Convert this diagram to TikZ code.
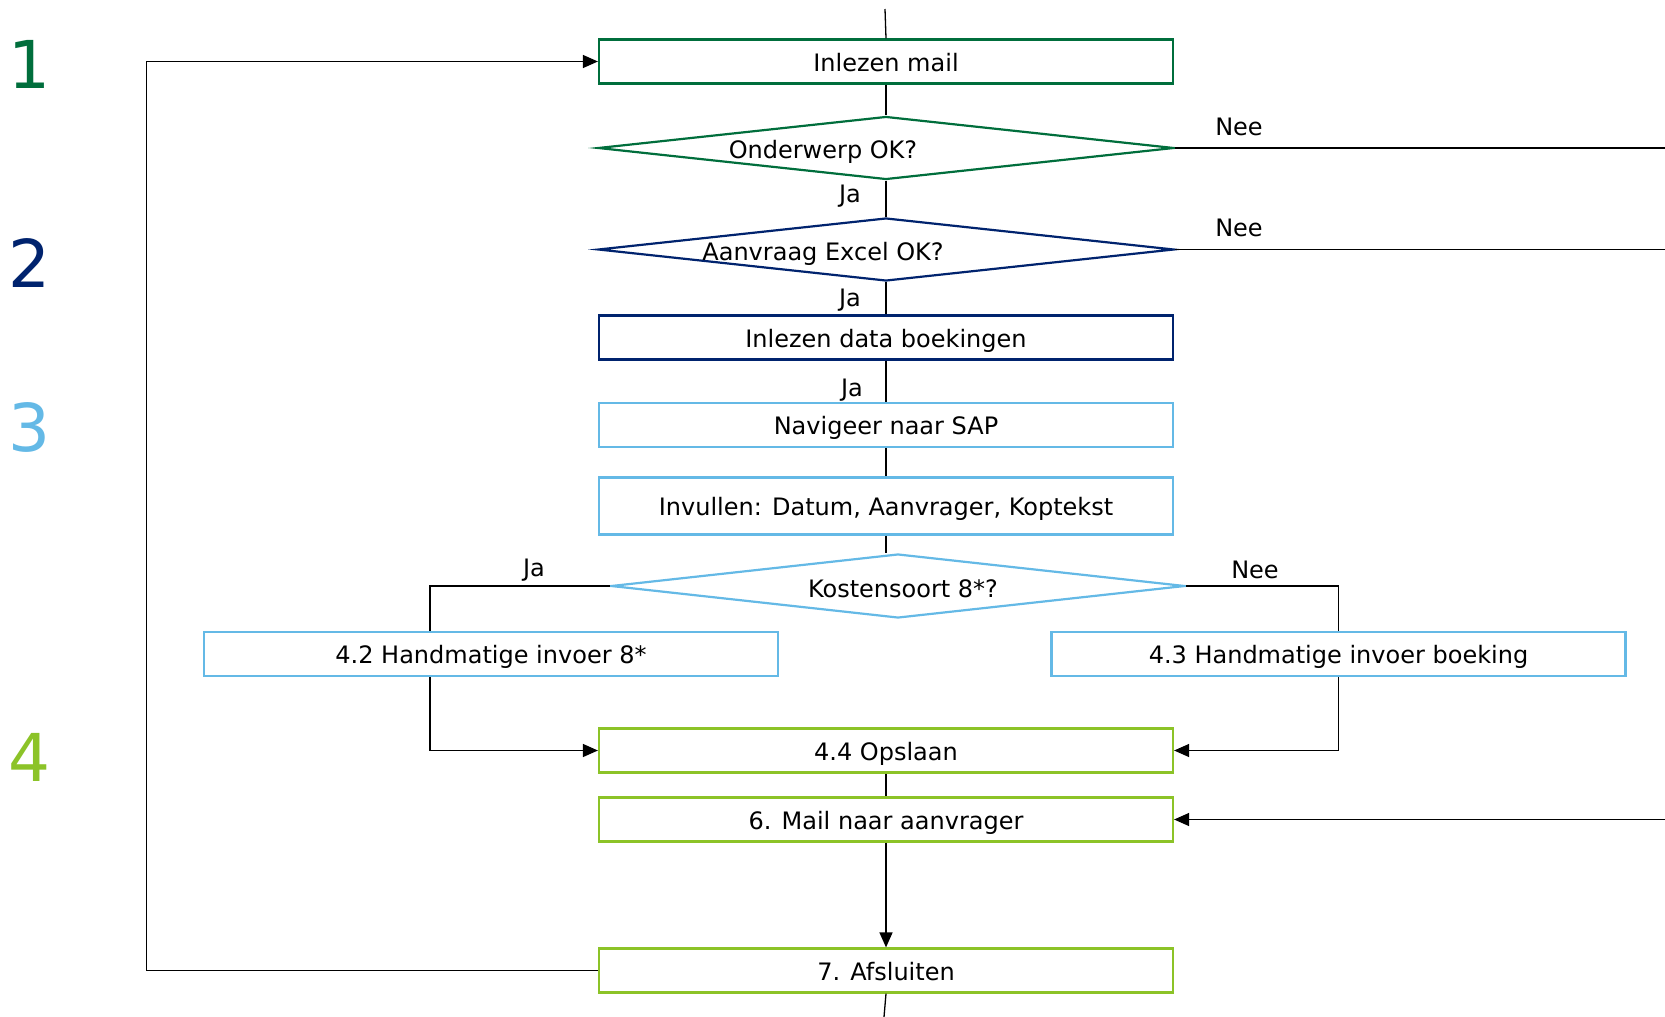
\documentclass[tikz,border=0pt]{standalone}
\usepackage{fontspec}
\setmainfont{DejaVu Sans}
\usepackage{xcolor}
\definecolor{green-800}{RGB}{0,110,60}
\definecolor{navy-900}{RGB}{0,35,110}
\definecolor{sky-400}{RGB}{100,185,230}
\definecolor{lime-600}{RGB}{140,195,40}
\usetikzlibrary{shapes.geometric,arrows.meta,positioning}

\begin{document}
\begin{tikzpicture}[
    x=1pt, y=-1pt,
    every node/.style={inner sep=0pt},
    lbl/.style={font=\fontsize{24}{28}\selectfont, text height=19pt, text depth=0pt},
    stepbox/.style={lbl, draw=#1, line width=2.2pt, fill=white, minimum width=574pt, minimum height=44pt},
    decision/.style={draw=#1, diamond, line width=2.2pt, fill=white, minimum width=576pt, minimum height=63pt},
    conn/.style={line width=1.3pt, draw=black},
    arr/.style={conn, -{Triangle[length=15pt,width=13pt]}},
    phase/.style={font=\fontsize{66}{72}\selectfont}
]

% Canvas
\useasboundingbox (0,0) rectangle (1665,1017);

% Phase numbers
\node[phase, text=green-800] (fase-1) at (29,64) {1};
\node[phase, text=navy-900] (fase-2) at (29,263) {2};
\node[phase, text=sky-400] (fase-3) at (29,427) {3};
\node[phase, text=lime-600] (fase-4) at (29,757) {4};

% Steps and decisions
\node[stepbox=green-800] (mail) at (886,61.5) {Inlezen mail};
\node[decision=green-800] (onderwerp) at (886,148) {};
\node[lbl] (onderwerp-txt) at (823,149) {Onderwerp OK?};
\node[decision=navy-900] (excel) at (886,249.5) {};
\node[lbl] (excel-txt) at (823,251) {Aanvraag Excel OK?};
\node[stepbox=navy-900] (data) at (886,337.5) {Inlezen data boekingen};
\node[stepbox=sky-400] (sap) at (886,425) {Navigeer naar SAP};
\node[stepbox=sky-400, minimum height=57pt] (invullen) at (886,506) {Invullen: Datum, Aanvrager, Koptekst};
\node[decision=sky-400, minimum width=574pt, minimum height=64pt] (kosten) at (898,586) {};
\node[lbl] (kosten-txt) at (903,588) {Kostensoort 8*?};
\node[stepbox=sky-400] (hand-8) at (491,654) {4.2 Handmatige invoer 8*};
\node[stepbox=sky-400] (hand-boek) at (1338.5,654) {4.3 Handmatige invoer boeking};
\node[stepbox=lime-600] (opslaan) at (886,750.5) {4.4 Opslaan};
\node[stepbox=lime-600] (mail-aanvr) at (886,819.5) {6. Mail naar aanvrager};
\node[stepbox=lime-600] (afsluiten) at (886,970.5) {7. Afsluiten};

% Loose ends
\coordinate (start) at (885,9);
\coordinate (rand-1) at (1665,148);
\coordinate (rand-2) at (1665,249.5);
\coordinate (rand-3) at (1665,819.5);
\coordinate (terug) at (146.5,970.5);
\coordinate (einde) at (884,1017);

% Connectors
\draw[conn] (start) -- (mail.north);
\draw[conn] (mail.south) -- (onderwerp.north);
\draw[conn] (onderwerp.south) -- (excel.north);
\draw[conn] (onderwerp.east) -- (rand-1);
\draw[conn] (excel.south) -- (data.north);
\draw[conn] (excel.east) -- (rand-2);
\draw[conn] (data.south) -- (sap.north);
\draw[conn] (sap.south) -- (invullen.north);
\draw[conn] (invullen.south) -- (invullen.south |- kosten.north);
\draw[conn] (kosten.west) -| ([xshift=-61pt]hand-8.north);
\draw[conn] (kosten.east) -| (hand-boek.north);
\draw[arr] ([xshift=-61pt]hand-8.south) |- (opslaan.west);
\draw[arr] (hand-boek.south) |- (opslaan.east);
\draw[conn] (opslaan.south) -- (mail-aanvr.north);
\draw[arr] (rand-3) -- (mail-aanvr.east);
\draw[arr] (mail-aanvr.south) -- (afsluiten.north);
\draw[arr] (afsluiten.west) -- (terug) |- (mail.west);
\draw[conn] (afsluiten.south) -- (einde);

% Branch labels
\node[lbl] (nee-1) at (1239,126) {Nee};
\node[lbl] (ja-1) at (850,192.5) {Ja};
\node[lbl] (nee-2) at (1239,227) {Nee};
\node[lbl] (ja-2) at (850,296.5) {Ja};
\node[lbl] (ja-3) at (852,387) {Ja};
\node[lbl] (ja-4) at (534,566.5) {Ja};
\node[lbl] (nee-4) at (1255,569) {Nee};

\end{tikzpicture}
\end{document}
